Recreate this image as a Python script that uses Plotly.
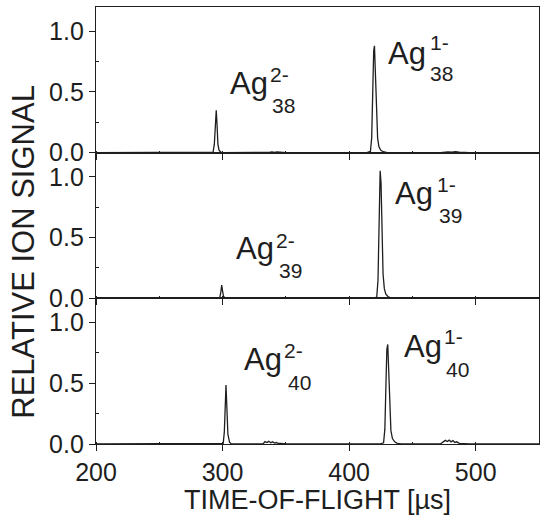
import plotly.graph_objects as go
from plotly.subplots import make_subplots

# Time-of-flight spectra (µs) and relative ion signal for Ag38, Ag39, Ag40
t_ag38 = [200, 290, 292.5, 293.5, 294.3, 295.0, 295.6, 296.3, 297.2, 298.5, 300,
          333, 335, 337, 339, 341, 343, 345, 350,
          414, 416.8, 417.8, 418.7, 419.4, 420.0, 420.7, 421.5, 422.5, 423.5, 425, 427, 430,
          472, 475, 478, 481, 484, 487, 490, 495, 550]
y_ag38 = [0, 0, 0.005, 0.07, 0.27, 0.35, 0.24, 0.07, 0.02, 0.005, 0,
          0, 0.006, 0.003, 0.007, 0.002, 0.006, 0.003, 0,
          0, 0.01, 0.12, 0.55, 0.84, 0.88, 0.68, 0.33, 0.12, 0.05, 0.02, 0.008, 0,
          0, 0.004, 0.007, 0.005, 0.008, 0.004, 0.003, 0, 0]

t_ag39 = [200, 296, 297.8, 298.6, 299.3, 300.0, 300.8, 302, 304,
          333, 336, 339, 342, 345, 350,
          419, 421.8, 422.8, 423.7, 424.5, 425.2, 426.0, 426.8, 427.8, 429, 431, 433, 436,
          472, 475, 478, 481, 484, 487, 490, 495, 550]
y_ag39 = [0, 0, 0.005, 0.05, 0.11, 0.06, 0.015, 0.003, 0,
          0, 0.004, 0.002, 0.005, 0.002, 0,
          0, 0.01, 0.15, 0.65, 1.05, 0.95, 0.55, 0.2, 0.08, 0.035, 0.012, 0.004, 0,
          0, 0.004, 0.006, 0.005, 0.006, 0.003, 0.002, 0, 0]

t_ag40 = [200, 298, 300.5, 301.4, 302.1, 302.7, 303.4, 304.2, 305.5, 307,
          332, 333.5, 335, 336.5, 338, 339.5, 341, 342.5, 344, 346, 350,
          424, 427.2, 428.2, 429.1, 429.8, 430.5, 431.2, 432.0, 433.0, 434.2, 436, 438, 441,
          472, 474.5, 476, 477.5, 479, 480.5, 482, 483.5, 485, 487, 490, 495, 550]
y_ag40 = [0, 0, 0.005, 0.1, 0.4, 0.485, 0.3, 0.08, 0.015, 0,
          0, 0.02, 0.012, 0.022, 0.01, 0.018, 0.008, 0.012, 0.004, 0.005, 0,
          0, 0.01, 0.12, 0.5, 0.78, 0.82, 0.6, 0.28, 0.11, 0.045, 0.018, 0.006, 0,
          0, 0.015, 0.03, 0.02, 0.032, 0.018, 0.028, 0.012, 0.018, 0.006, 0.004, 0, 0]

cluster_sizes = ["38", "39", "40"]
charge_states = ["2-", "1-"]

# Label anchors (data coordinates) per panel: [Ag text, superscript, subscript]
label_pos = [
    [[(304.8, 0.572), (336.4, 0.642), (338.0, 0.387)],
     [(430.1, 0.819), (463.3, 0.909), (463.3, 0.650)]],
    [[(309.5, 0.407), (341.1, 0.473), (343.5, 0.230)],
     [(435.7, 0.860), (468.8, 0.938), (470.4, 0.683)]],
    [[(315.8, 0.695), (347.4, 0.774), (350.6, 0.506)],
     [(442.8, 0.802), (474.4, 0.885), (475.9, 0.617)]],
]

series = [(t_ag38, y_ag38), (t_ag39, y_ag39), (t_ag40, y_ag40)]

INK = "#1e1e1e"
FONT = "Liberation Sans, Arial, sans-serif"

fig = make_subplots(rows=3, cols=1, shared_xaxes=True, vertical_spacing=0)

for i, (t, y) in enumerate(series):
    row = i + 1
    fig.add_trace(go.Scatter(x=t, y=y, mode="lines",
                             line=dict(color=INK, width=1.3),
                             showlegend=False, hoverinfo="skip"),
                  row=row, col=1)
    fig.update_yaxes(range=[0, 1.2], tickvals=[0, 0.5, 1.0], ticktext=["0.0", "0.5", "1.0"],
                     ticks="outside", ticklen=6, tickwidth=1.2, tickcolor=INK,
                     minor=dict(ticks="inside", tickvals=[0.25, 0.75], ticklen=3,
                                tickcolor=INK, tickwidth=1),
                     showline=True, linecolor=INK, linewidth=1.3, mirror=True,
                     showgrid=False, zeroline=False,
                     tickfont=dict(family=FONT, size=25, color=INK),
                     row=row, col=1)
    fig.update_xaxes(range=[200, 550], dtick=100, tick0=200,
                     ticks="outside", ticklen=6, tickwidth=1.2, tickcolor=INK,
                     minor=dict(ticks="inside", dtick=50, ticklen=2,
                                tickcolor=INK, tickwidth=1),
                     showline=True, linecolor=INK, linewidth=1.3, mirror=True,
                     showgrid=False, zeroline=False,
                     tickfont=dict(family=FONT, size=25, color=INK),
                     row=row, col=1)

    xref = "x" if row == 1 else f"x{row}"
    yref = "y" if row == 1 else f"y{row}"
    for k, charge in enumerate(charge_states):
        (ax, ay), (sx, sy), (bx, by) = label_pos[i][k]
        for text, px, py, size in [("Ag", ax, ay, 31),
                                   (charge, sx, sy, 21),
                                   (cluster_sizes[i], bx, by, 21)]:
            fig.add_annotation(x=px, y=py, xref=xref, yref=yref, text=text,
                               showarrow=False, xanchor="left", yanchor="middle",
                               borderpad=0,
                               font=dict(family=FONT, size=size, color=INK))

fig.add_annotation(x=0.5, y=-0.128, xref="paper", yref="paper",
                   text="TIME-OF-FLIGHT [µs]", showarrow=False,
                   xanchor="center", yanchor="middle",
                   font=dict(family=FONT, size=27, color=INK))
fig.add_annotation(x=-0.1625, y=0.44, xref="paper", yref="paper",
                   text="RELATIVE ION SIGNAL", showarrow=False, textangle=-90,
                   xanchor="center", yanchor="middle",
                   font=dict(family=FONT, size=31, color=INK))

fig.update_layout(width=542, height=517, margin=dict(l=96, r=3, t=7, b=73),
                  paper_bgcolor="white", plot_bgcolor="white")

fig.write_html("out.html")
